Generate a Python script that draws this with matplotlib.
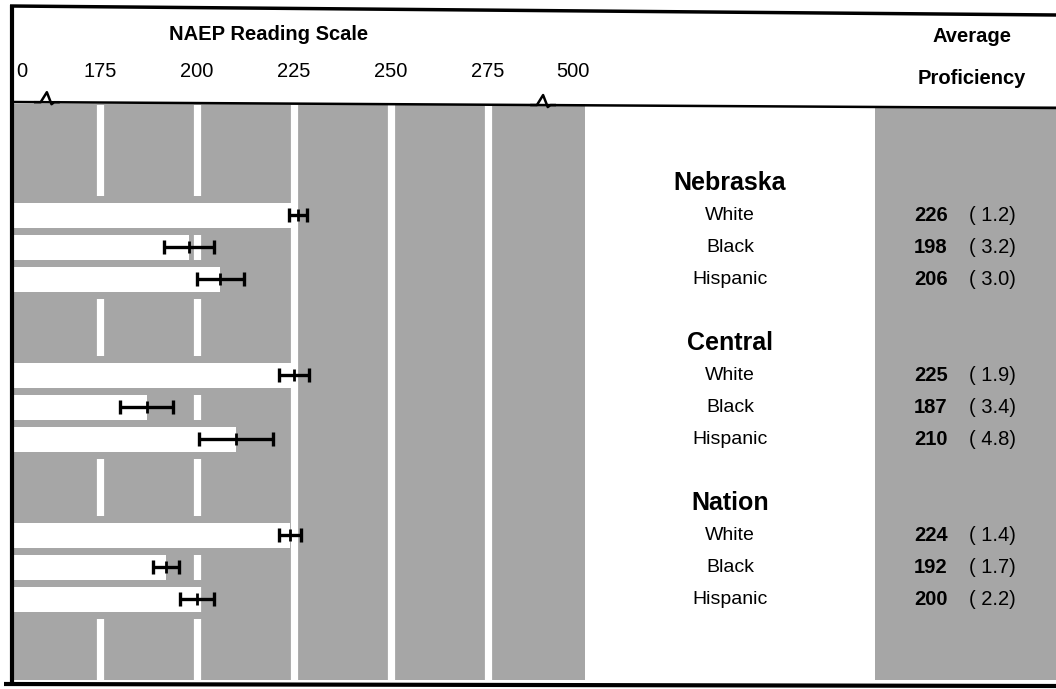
import numpy as np
import matplotlib.pyplot as plt
import matplotlib.transforms as mtransforms
from matplotlib.patches import Rectangle

plt.rcParams['font.family'] = ['Liberation Sans', 'DejaVu Sans']

# data
groups = ['Nebraska', 'Central', 'Nation']
races = ['White', 'Black', 'Hispanic']
avg = np.array([[226, 198, 206],
                [225, 187, 210],
                [224, 192, 200]])
se = np.array([[1.2, 3.2, 3.0],
               [1.9, 3.4, 4.8],
               [1.4, 1.7, 2.2]])
grid_vals = [175, 200, 225, 250, 275]
tick_labels = ['0', '175', '200', '225', '250', '275', '500']

GRAY = '#a6a6a6'
XMIN, XMAX = 151.8, 300.0      # visible part of the (broken) scale
BRK_LO, BRK_HI = 161.3, 289.2  # where the axis breaks are drawn
LBL_LO, LBL_HI = 154.8, 296.9  # where "0" and "500" sit

fig = plt.figure(figsize=(10.56, 6.89), dpi=100)

# background axes in pixel coords
bg = fig.add_axes([0, 0, 1, 1])
bg.set_xlim(0, 1056)
bg.set_ylim(689, 0)
bg.axis('off')
bg.add_patch(Rectangle((10, 104), 575, 576, color=GRAY, lw=0, zorder=0))
bg.add_patch(Rectangle((875, 106), 181, 574, color=GRAY, lw=0, zorder=0))

bg.text(269, 35, 'NAEP Reading Scale', ha='center', va='center',
        fontsize=14.5, fontweight='bold')
bg.text(972, 37, 'Average', ha='center', va='center', fontsize=14.5, fontweight='bold')
bg.text(972, 79, 'Proficiency', ha='center', va='center', fontsize=14.5, fontweight='bold')

# plot axes
ax = fig.add_axes([10 / 1056, 1 - 680 / 689, 575 / 1056, 575 / 689])
ax.set_xlim(XMIN, XMAX)
ax.set_ylim(575 / 32, 0)
ax.patch.set_visible(False)
for s in ax.spines.values():
    s.set_visible(False)
ax.set_yticks([])
ax.xaxis.tick_top()
ax.set_xticks([LBL_LO] + grid_vals + [LBL_HI], tick_labels)
ax.tick_params(axis='x', length=0, pad=17, labelsize=14.5)

for g in grid_vals:
    ax.axvline(g, color='white', lw=5.2, zorder=1)

ys = np.array([[3.45 + 5 * gi + k for k in range(3)] for gi in range(3)])
heads = ys[:, 0] - 1

ax.barh(ys.ravel(), avg.ravel() - XMIN, left=XMIN, height=0.8,
        color='white', lw=0, zorder=2)
# shaded strips between the bars of a group
strips = np.concatenate([ys.ravel() - 0.5, ys[:, -1] + 0.5])
ax.barh(strips, 223.6 - XMIN, left=XMIN, height=0.2, color=GRAY, lw=0, zorder=3)

ax.errorbar(avg.ravel(), ys.ravel(), xerr=2 * se.ravel(), fmt='none',
            ecolor='black', elinewidth=2.4, capsize=5, capthick=2.4, zorder=4)
ax.plot(avg.ravel(), ys.ravel(), '|', color='black', ms=8, mew=2, zorder=5)

# labels and values, x in pixels, y in row units
lt = mtransforms.blended_transform_factory(bg.transData, ax.transData)
for gi, grp in enumerate(groups):
    bg.text(730, heads[gi], grp, transform=lt, ha='center', va='center',
            fontsize=18, fontweight='bold')
    for k, race in enumerate(races):
        bg.text(730, ys[gi, k], race, transform=lt, ha='center', va='center',
                fontsize=14)
        bg.text(931, ys[gi, k], f'{avg[gi, k]}', transform=lt, ha='center',
                va='center', fontsize=14.5, fontweight='bold')
        bg.text(969, ys[gi, k], f'( {se[gi, k]:.1f})', transform=lt, ha='left',
                va='center', fontsize=14.5)

# frame and header rule on top of everything
top = fig.add_axes([0, 0, 1, 1], sharex=bg, sharey=bg)
top.axis('off')
top.patch.set_visible(False)
top.plot([10, 1056], [6, 15], color='black', lw=2.5, solid_capstyle='butt')
top.plot([12, 12], [5, 684], color='black', lw=3, solid_capstyle='butt')
top.plot([4, 1056], [684, 686], color='black', lw=3, solid_capstyle='butt')
top.plot([12, 1056], [102, 108], color='black', lw=1.8)

# axis break marks on the header rule
trans = mtransforms.blended_transform_factory(ax.transData, bg.transData)
for b in (BRK_LO, BRK_HI):
    rule_y = 102 + 6 * (ax.transData.transform((b, 0))[0] - 12) / 1044
    ax.plot([b - 3.0, b - 1.6, b, b + 1.2, b + 1.9, b + 3.0],
            [rule_y, rule_y, rule_y - 10, rule_y + 2, rule_y, rule_y],
            color='black', lw=1.8, transform=trans, clip_on=False, zorder=6)

fig.savefig('out.png', dpi=100)
